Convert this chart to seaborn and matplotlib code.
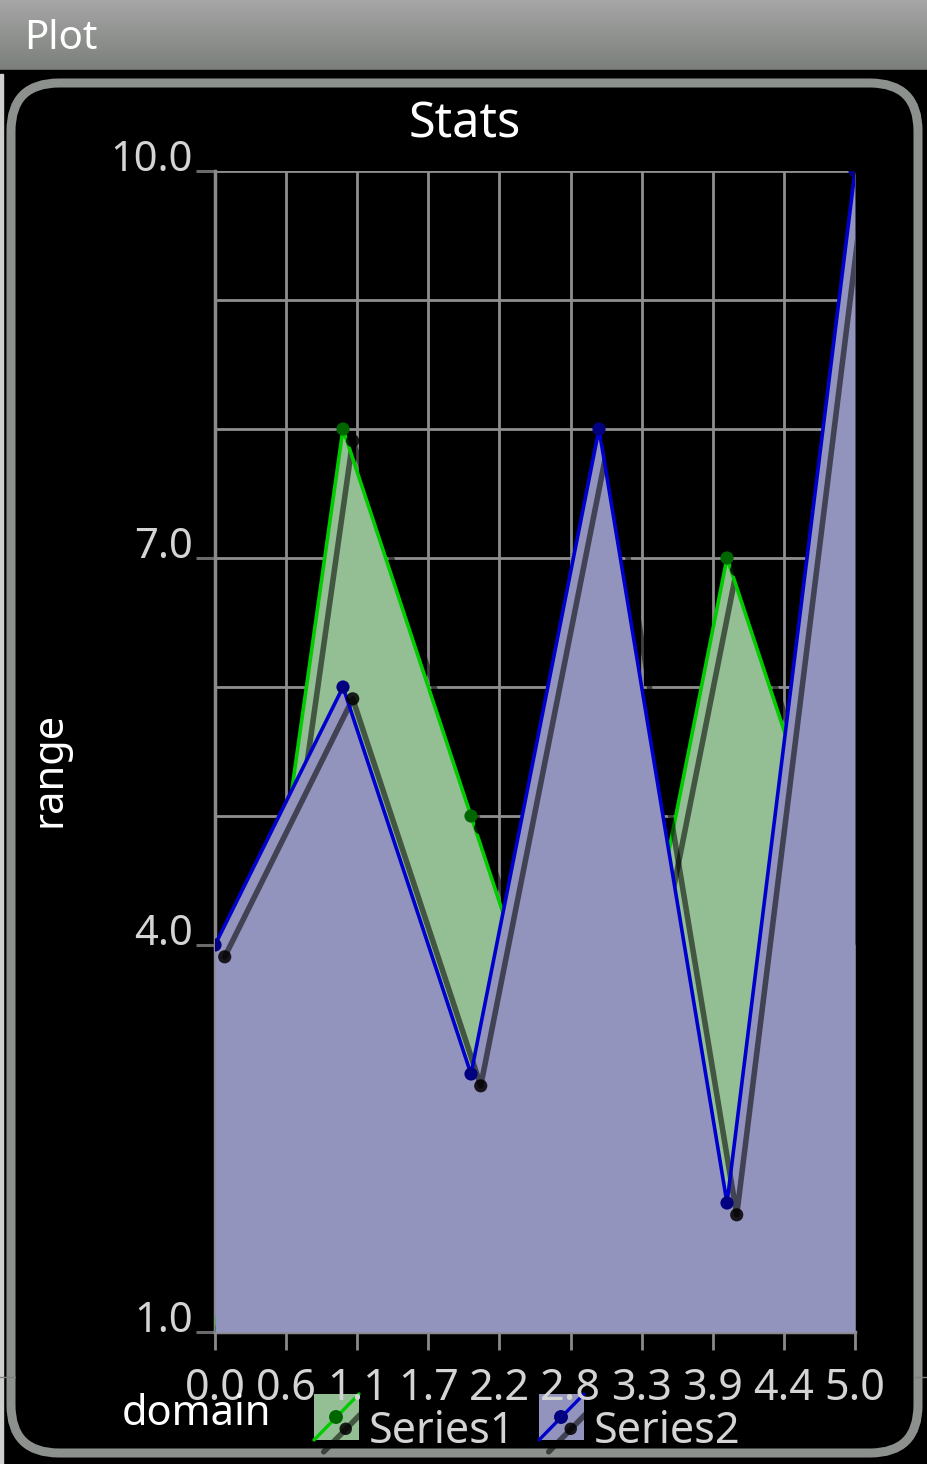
import numpy as np
import pandas as pd
import seaborn as sns
import matplotlib.pyplot as plt
import matplotlib.patheffects as pe
from matplotlib.patches import FancyBboxPatch, Rectangle
from matplotlib.colors import LinearSegmentedColormap

# data
domain = [0, 1, 2, 3, 4, 5]
series1 = [1, 8, 5, 2, 7, 4]
series2 = [4, 6, 3, 8, 2, 10]
x_tick_labels = ["0.0", "0.6", "1.1", "1.7", "2.2", "2.8", "3.3", "3.9", "4.4", "5.0"]
y_major = [1, 4, 7, 10]
y_major_labels = ["1.0", "4.0", "7.0", "10.0"]

df = pd.DataFrame({"domain": domain, "Series1": series1, "Series2": series2})

# colours
fill1, line1, pt1 = "#94bf94", "#00cc00", "#006600"
fill2, line2, pt2 = "#9394bd", "#0000cc", "#000080"
grid_c = "#8f8f8f"
label_c = "#d4d4d4"

sns.set_style("dark", {"axes.facecolor": "black", "figure.facecolor": "black"})
plt.rcParams['font.family'] = ['Noto Sans', 'DejaVu Sans']

W, H = 927, 1464
fig = plt.figure(figsize=(W / 100, H / 100), dpi=100, facecolor="black")

# background layer in pixel coordinates
bg = fig.add_axes([0, 0, 1, 1])
bg.set_zorder(0)
grad = np.linspace(0, 1, 70).reshape(-1, 1)
bar_cmap = LinearSegmentedColormap.from_list("bar", ["#a6a6a6", "#7b7f7b"])
bg.imshow(grad, extent=(0, W, 70, 0), cmap=bar_cmap, aspect="auto")
bg.add_patch(Rectangle((0, 70), W, 4, color="black"))
bg.add_patch(Rectangle((0, 74), 3, H - 74, color="#cfcfcf"))
bg.add_patch(FancyBboxPatch((11, 83), 907, 1370, boxstyle="round,pad=0,rounding_size=48",
                            fc="black", ec="#8d918d", lw=6.5))
bg.plot([0, 15], [1377, 1377], color="#808080", lw=1)
bg.plot([915, W], [1377, 1377], color="#808080", lw=1)
bg.text(24, 49, "Plot", color="white", fontsize=29, fontweight="bold", va="baseline")

line_shadow = [pe.SimpleLineShadow(offset=(7, -8.5), shadow_color="black", alpha=0.55, rho=0.3, linewidth=4),
               pe.Normal()]
dot_shadow = [pe.SimplePatchShadow(offset=(7, -8.5), shadow_rgbFace="black", alpha=0.85),
              pe.Normal()]

# legend icons
for x0, fc, lc, pc in [(314, fill1, line1, pt1), (539, fill2, line2, pt2)]:
    bg.add_patch(Rectangle((x0, 1394), 45, 46, fc=fc, ec="none"))
    bg.plot([x0, x0 + 45], [1440, 1394], color=lc, lw=2.4, path_effects=line_shadow)
    bg.plot([x0 + 22], [1417], "o", color=pc, ms=9, path_effects=dot_shadow)
bg.set_xlim(0, W)
bg.set_ylim(H, 0)
bg.axis("off")

# plot area
ax = fig.add_axes([215 / W, 1 - 1332 / H, 640 / W, 1161 / H])
ax.set_zorder(1)
ax.set_facecolor("black")
ax.set_axisbelow(True)

for col, fc, lc, pc, z in [("Series1", fill1, line1, pt1, 2), ("Series2", fill2, line2, pt2, 5)]:
    ax.fill_between(df["domain"], df[col], 1, color=fc, lw=0, zorder=z)
    sns.lineplot(data=df, x="domain", y=col, ax=ax, color=lc, lw=2.6, zorder=z + 1,
                 path_effects=line_shadow)
    sns.scatterplot(data=df, x="domain", y=col, ax=ax, color=pc, s=90, linewidth=0,
                    zorder=z + 2, path_effects=dot_shadow)

ax.set_xlim(0, 5)
ax.set_ylim(1, 10)
ax.set_xticks(np.linspace(0, 5, len(x_tick_labels)), labels=x_tick_labels)
ax.set_yticks(y_major, labels=y_major_labels)
ax.set_yticks(range(1, 11), minor=True)
ax.grid(True, which="both", axis="y", color=grid_c, lw=2)
ax.grid(True, which="major", axis="x", color=grid_c, lw=2)
ax.tick_params(axis="x", direction="out", length=13, width=2, color="#8a8a8a",
               labelsize=31, labelcolor=label_c, pad=12, bottom=True)
ax.tick_params(axis="y", which="major", direction="out", length=14, width=2.2, color="#6a6a6a",
               labelsize=30, labelcolor=label_c, pad=2, left=True)
ax.tick_params(axis="y", which="minor", length=0)
for t in ax.get_yticklabels():
    t.set_verticalalignment("baseline")
for s in ["top", "right"]:
    ax.spines[s].set_visible(False)
for s in ["left", "bottom"]:
    ax.spines[s].set_color("#8a8a8a")
    ax.spines[s].set_linewidth(2.5)
ax.set_xlabel("")
ax.set_ylabel("")

# texts
fig.text(465 / W, 1 - 137 / H, "Stats", ha="center", va="baseline", fontsize=35, color="white")
fig.text(50 / W, 1 - 769 / H, "range", rotation=90, ha="center", va="center", fontsize=30, color="white")
fig.text(122 / W, 1 - 1425 / H, "domain", ha="left", va="baseline", fontsize=30, color="white")
fig.text(369 / W, 1 - 1443 / H, "Series1", ha="left", va="baseline", fontsize=31, color=label_c)
fig.text(594 / W, 1 - 1443 / H, "Series2", ha="left", va="baseline", fontsize=31, color=label_c)

fig.savefig("out.png", dpi=100, facecolor="black")
